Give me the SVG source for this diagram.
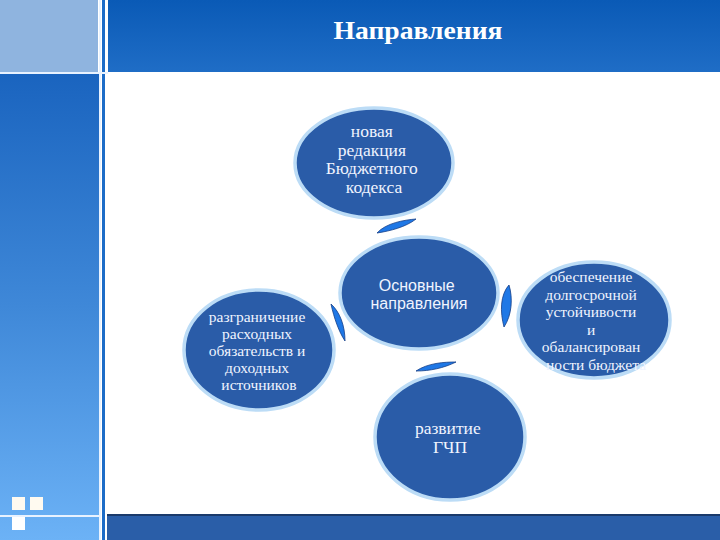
<svg xmlns="http://www.w3.org/2000/svg" width="720" height="540" viewBox="0 0 720 540">
  <defs>
    <linearGradient id="gTitle" x1="0" y1="0" x2="0" y2="1">
      <stop offset="0" stop-color="#0a5ab6"/>
      <stop offset="1" stop-color="#1f6dc6"/>
    </linearGradient>
    <linearGradient id="gLeft" x1="0" y1="0" x2="0" y2="1">
      <stop offset="0" stop-color="#1a64bf"/>
      <stop offset="0.5" stop-color="#3f88d8"/>
      <stop offset="1" stop-color="#6cb2f6"/>
    </linearGradient>
    <style>
      .node ellipse { fill: #2a5ca8; stroke: #bcdcf6; stroke-width: 3.5; }
      .serif { font-family: "Liberation Serif", "Times New Roman", serif; fill: #f0f4ff; text-anchor: middle; }
      .sans { font-family: "Liberation Sans", Arial, sans-serif; fill: #f0f4ff; text-anchor: middle; }
      .arr { fill: #1f78e6; stroke: #153f88; stroke-width: 0.8; }
    </style>
  </defs>

  <rect width="720" height="540" fill="#ffffff"/>

  <!-- frame -->
  <g id="frame">
    <rect x="0" y="0" width="98" height="72" fill="#8fb4df"/>
    <rect x="108" y="0" width="612" height="72" fill="url(#gTitle)"/>
    <rect x="0" y="74" width="99" height="466" fill="url(#gLeft)"/>
    <rect x="102" y="0" width="3" height="540" fill="#1c6cc8"/>
    <rect x="0" y="72" width="108" height="2" fill="#e8f2ff"/>
    <rect x="99" y="0" width="2" height="540" fill="#e8f2ff"/>
    <rect x="0" y="515" width="101" height="2" fill="#e8f2ff"/>
    <rect x="107" y="514" width="613" height="2" fill="#1a3a6a"/>
    <rect x="107" y="516" width="613" height="24" fill="#2a5ea8"/>
    <rect x="12" y="497" width="13" height="13" fill="#fffaf0"/>
    <rect x="30" y="497" width="13" height="13" fill="#fffaf0"/>
    <rect x="12" y="517" width="13" height="13" fill="#ffffff"/>
    <text x="418" y="39" font-family="Liberation Serif, 'Times New Roman', serif" font-weight="bold" font-size="25" fill="#ffffff" text-anchor="middle" textLength="169" lengthAdjust="spacingAndGlyphs">Направления</text>
  </g>

  <!-- connectors -->
  <g id="connectors">
    <path class="arr" d="M377,233 C386,223 404,220 416,219 C406,227 390,231 377,233 Z"/>
    <path class="arr" d="M331,304 C334,318 339,332 345,341 C345,326 340,312 331,304 Z"/>
    <path class="arr" d="M509,285 C500,295 500,312 504,327 C512,315 513,298 509,285 Z"/>
    <path class="arr" d="M416,371 C428,363 444,362 456,362 C444,368 430,371 416,371 Z"/>
  </g>

  <g id="node-top" class="node">
    <ellipse cx="374" cy="163" rx="79" ry="55"/>
    <text class="serif" font-size="17.5">
      <tspan x="374" y="137">новая</tspan>
      <tspan x="374" y="155.5">редакция</tspan>
      <tspan x="374" y="174">Бюджетного</tspan>
      <tspan x="374" y="192.5">кодекса</tspan>
    </text>
  </g>

  <g id="node-center" class="node">
    <ellipse cx="419" cy="293" rx="79" ry="56"/>
    <text class="sans" font-size="16">
      <tspan x="419" y="291">Основные</tspan>
      <tspan x="419" y="309">направления</tspan>
    </text>
  </g>

  <g id="node-left" class="node">
    <ellipse cx="259" cy="350" rx="75" ry="60"/>
    <text class="serif" font-size="15.5">
      <tspan x="259" y="322">разграничение</tspan>
      <tspan x="259" y="339">расходных</tspan>
      <tspan x="259" y="356">обязательств и</tspan>
      <tspan x="259" y="373">доходных</tspan>
      <tspan x="259" y="390">источников</tspan>
    </text>
  </g>

  <g id="node-right" class="node">
    <ellipse cx="594" cy="320" rx="76" ry="58"/>
    <text class="serif" font-size="15.5">
      <tspan x="593" y="282">обеспечение</tspan>
      <tspan x="593" y="299.5">долгосрочной</tspan>
      <tspan x="593" y="317">устойчивости</tspan>
      <tspan x="593" y="334.5">и</tspan>
      <tspan x="593" y="352">обалансирован</tspan>
      <tspan x="596" y="369.5">ности бюджета</tspan>
    </text>
  </g>

  <g id="node-bottom" class="node">
    <ellipse cx="450" cy="437" rx="75" ry="63"/>
    <text class="serif" font-size="17.5">
      <tspan x="450" y="434">развитие</tspan>
      <tspan x="450" y="453">ГЧП</tspan>
    </text>
  </g>
</svg>
